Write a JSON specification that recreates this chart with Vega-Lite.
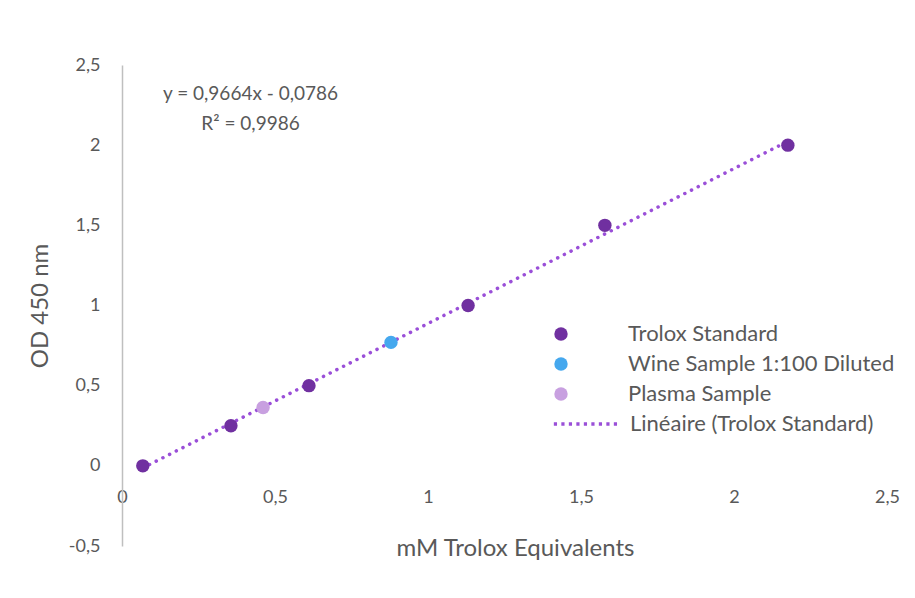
{
  "$schema": "https://vega.github.io/schema/vega-lite/v6.json",
  "width": 765,
  "height": 481,
  "autosize": {"type": "none"},
  "padding": {"left": 122, "top": 65, "right": 28, "bottom": 52},
  "background": "white",
  "config": {
    "view": {"stroke": null},
    "font": "Lato",
    "axis": {"labelFont": "Lato", "titleFont": "Lato", "labelColor": "#595959", "titleColor": "#595959", "labelFontSize": 18, "titleFontSize": 24, "titleFontWeight": "normal", "grid": false, "labelFlush": false}
  },
  "datasets": {
    "pts": [
      {"series": "Trolox Standard", "x": 0.068, "y": 0.0},
      {"series": "Trolox Standard", "x": 0.356, "y": 0.25},
      {"series": "Trolox Standard", "x": 0.611, "y": 0.5},
      {"series": "Trolox Standard", "x": 1.131, "y": 1.0},
      {"series": "Trolox Standard", "x": 1.578, "y": 1.5},
      {"series": "Trolox Standard", "x": 2.176, "y": 2.0},
      {"series": "Wine Sample 1:100 Diluted", "x": 0.879, "y": 0.77},
      {"series": "Plasma Sample", "x": 0.461, "y": 0.364}
    ],
    "trend": [
      {"series": "Linéaire (Trolox Standard)", "x": 0.068, "y": -0.013},
      {"series": "Linéaire (Trolox Standard)", "x": 2.176, "y": 2.024}
    ],
    "eq": [
      {"label": "y = 0,9664x - 0,0786", "x": 0.42, "y": 2.32},
      {"label": "R² = 0,9986", "x": 0.42, "y": 2.13}
    ]
  },
  "resolve": {"scale": {"x": "shared", "y": "shared"}},
  "layer": [
    {
      "mark": {"type": "rule", "color": "#BFBFBF", "strokeWidth": 1.5},
      "encoding": {"y": {"datum": 0, "type": "quantitative", "scale": {"domain": [-0.5, 2.5], "nice": false, "zero": false}}}
    },
    {
      "data": {"name": "trend"},
      "mark": {"type": "line", "strokeWidth": 3.5, "strokeCap": "round", "strokeDash": [0.1, 7.4]},
      "encoding": {
        "x": {"field": "x", "type": "quantitative", "scale": {"domain": [0, 2.5], "nice": false, "zero": false}},
        "y": {"field": "y", "type": "quantitative", "scale": {"domain": [-0.5, 2.5], "nice": false, "zero": false}},
        "stroke": {
          "field": "series", "type": "nominal",
          "scale": {"domain": ["Linéaire (Trolox Standard)"], "range": ["#9A4FD8"]},
          "legend": {
            "title": null, "orient": "none", "legendX": 430, "legendY": 324, "padding": 0,
            "symbolType": "stroke", "symbolSize": 4400, "symbolStrokeWidth": 3.5, "symbolOpacity": 1, "symbolDash": [3.2, 4.3],
            "labelFont": "Lato", "labelFontSize": 22, "labelColor": "#595959", "labelOffset": 8, "labelLimit": 400
          }
        }
      }
    },
    {
      "data": {"name": "pts"},
      "mark": {"type": "point", "filled": true, "opacity": 1, "size": 180},
      "encoding": {
        "x": {"field": "x", "type": "quantitative", "scale": {"domain": [0, 2.5], "nice": false, "zero": false},
          "axis": {"values": [0, 0.5, 1, 1.5, 2, 2.5], "labelExpr": "replace(replace(format(datum.value, '~g'), '.', ','), '−', '-')", "domain": false, "ticks": false, "offset": -58, "labelPadding": 0, "title": "mM Trolox Equivalents", "titlePadding": 30, "titleX": 393}},
        "y": {"field": "y", "type": "quantitative", "scale": {"domain": [-0.5, 2.5], "nice": false, "zero": false},
          "axis": {"values": [-0.5, 0, 0.5, 1, 1.5, 2, 2.5], "labelExpr": "replace(replace(format(datum.value, '~g'), '.', ','), '−', '-')", "domain": true, "domainColor": "#BFBFBF", "domainWidth": 1.5, "ticks": false, "labelPadding": 22, "title": "OD 450 nm", "titlePadding": 16}},
        "color": {
          "field": "series", "type": "nominal",
          "scale": {"domain": ["Trolox Standard", "Wine Sample 1:100 Diluted", "Plasma Sample"], "range": ["#7030A0", "#45A8EE", "#C8A0E0"]},
          "legend": {
            "title": null, "orient": "none", "legendX": 428, "legendY": 258, "padding": 0,
            "symbolType": "circle", "symbolSize": 180, "labelFont": "Lato", "labelFontSize": 22, "labelColor": "#595959",
            "labelOffset": 56, "rowPadding": 8, "labelLimit": 400
          }
        }
      }
    },
    {
      "data": {"name": "eq"},
      "mark": {"type": "text", "fontSize": 19, "color": "#595959", "font": "Lato", "align": "center", "baseline": "middle"},
      "encoding": {
        "x": {"field": "x", "type": "quantitative"},
        "y": {"field": "y", "type": "quantitative"},
        "text": {"field": "label"}
      }
    }
  ]
}
